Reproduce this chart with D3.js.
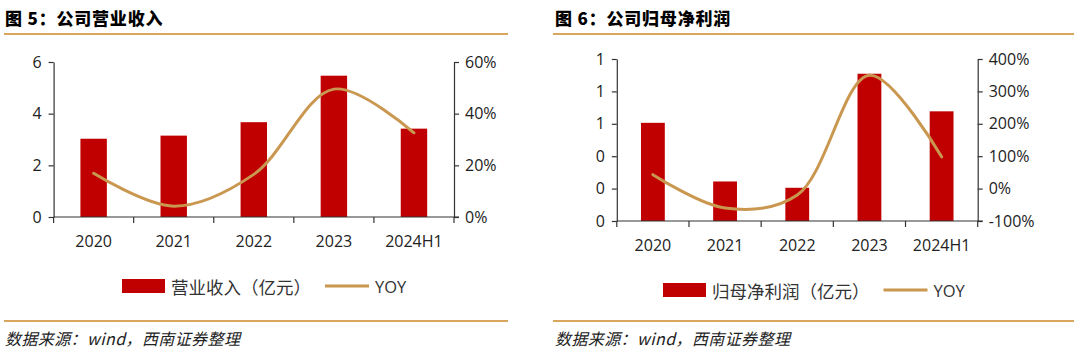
<!DOCTYPE html>
<html>
<head>
<meta charset="utf-8">
<script src="https://cdn.jsdelivr.net/npm/d3@7"></script>
<style>
  html, body { margin: 0; padding: 0; background: #fff; }
  svg { display: block; }
  .tick text { font-family: "Open Sans", "Liberation Sans", sans-serif; }
</style>
</head>
<body>
<svg id="chart" width="1080" height="353"></svg>
<script>
// ---------- data ----------
const categories = ["2020", "2021", "2022", "2023", "2024H1"];
const revenue = [3.03, 3.15, 3.67, 5.47, 3.42];          // 营业收入（亿元）
const revenueYoy = [16.9, 4.2, 16.5, 49.5, 32.6];        // %
const profit = [0.606, 0.244, 0.205, 0.909, 0.677];      // 归母净利润（亿元）
const profitYoy = [43, -60, -20, 350, 98];               // %

const revenueTicks = [0, 2, 4, 6];
const revenueYoyTicks = [0, 20, 40, 60];
const profitTicks = [0, 0.2, 0.4, 0.6, 0.8, 1.0];
const profitYoyTicks = [-100, 0, 100, 200, 300, 400];

const titles = ["图 5：公司营业收入", "图 6：公司归母净利润"];
const barNames = ["营业收入（亿元）", "归母净利润（亿元）"];
const lineName = "YOY";
const sourceText = "数据来源：wind，西南证券整理";

// ---------- styles ----------
const BAR = "#C00000";
const LINE = "#C9974F";
const RULE = "#D9A65E";
const AXIS = "#333333";
const TEXT = "#222222";
const CJK = "'Noto Sans CJK SC', 'Noto Sans', sans-serif";
const LAT = "'Open Sans', 'Liberation Sans', sans-serif";

const svg = d3.select("#chart");

function drawPanel(o) {
  const g = svg.append("g");

  // title
  g.append("text")
    .attr("x", o.titleX).attr("y", 17)
    .attr("dominant-baseline", "central")
    .attr("font-family", CJK).attr("font-weight", 900)
    .attr("font-size", 17).attr("letter-spacing", 0.8).attr("fill", "#000")
    .text(o.title);

  // rules
  [34, 321].forEach(y => {
    g.append("line")
      .attr("x1", o.ruleX0).attr("x2", o.ruleX1)
      .attr("y1", y).attr("y2", y)
      .attr("stroke", RULE).attr("stroke-width", 2);
  });

  // source
  g.append("text")
    .attr("x", o.titleX).attr("y", 338)
    .attr("dominant-baseline", "central")
    .attr("font-family", CJK).attr("font-style", "italic")
    .attr("font-size", 16).attr("letter-spacing", 0.4).attr("fill", "#222")
    .text(sourceText);

  // scales
  const x = d3.scaleBand().domain(categories).range([o.x0, o.x1]).paddingInner(0).paddingOuter(0);
  const yL = d3.scaleLinear().domain(o.yLDomain).range([o.yBottom, o.yTop]);
  const yR = d3.scaleLinear().domain(o.yRDomain).range([o.yBottom, o.yTop]);

  // bars
  const bw = x.bandwidth() * 0.33;
  g.append("g").selectAll("rect")
    .data(categories.map((c, i) => ({ c, v: o.bars[i] })))
    .join("rect")
    .attr("x", d => x(d.c) + x.bandwidth() / 2 - bw / 2)
    .attr("width", bw)
    .attr("y", d => yL(d.v))
    .attr("height", d => yL(o.yLDomain[0]) - yL(d.v))
    .attr("fill", BAR);

  // line
  const line = d3.line()
    .x((d, i) => x(categories[i]) + x.bandwidth() / 2)
    .y(d => yR(d))
    .curve(d3.curveCatmullRom.alpha(0.5));
  g.append("path")
    .datum(o.yoy)
    .attr("d", line)
    .attr("fill", "none")
    .attr("stroke", LINE)
    .attr("stroke-width", 3)
    .attr("stroke-linecap", "round");

  // axes
  const styleAxis = sel => {
    sel.select(".domain").attr("stroke", AXIS).attr("stroke-width", 1.2);
    sel.selectAll(".tick line").attr("stroke", AXIS).attr("stroke-width", 1.2);
    sel.selectAll(".tick text").attr("fill", TEXT).attr("font-size", 16).attr("font-family", LAT);
  };

  const axL = g.append("g")
    .attr("transform", `translate(${o.x0},0)`)
    .call(d3.axisLeft(yL).tickValues(o.yLTicks).tickFormat(o.yLFormat).tickSize(5).tickSizeOuter(0).tickPadding(7));
  styleAxis(axL);

  const axR = g.append("g")
    .attr("transform", `translate(${o.x1},0)`)
    .call(d3.axisRight(yR).tickValues(o.yRTicks).tickFormat(d => d + "%").tickSize(5).tickSizeOuter(0).tickPadding(6));
  styleAxis(axR);

  // x axis: line with ticks at band boundaries
  const bounds = categories.map(c => x(c)).concat([o.x1]);
  const axX = g.append("g");
  axX.append("line")
    .attr("x1", o.x0).attr("x2", o.x1 + 5)
    .attr("y1", o.yBottom).attr("y2", o.yBottom)
    .attr("stroke", AXIS).attr("stroke-width", 1.2);
  axX.selectAll("line.t").data(bounds).join("line")
    .attr("class", "t")
    .attr("x1", d => d).attr("x2", d => d)
    .attr("y1", o.yBottom).attr("y2", o.yBottom + 6)
    .attr("stroke", AXIS).attr("stroke-width", 1.2);
  axX.selectAll("text").data(categories).join("text")
    .attr("x", d => x(d) + x.bandwidth() / 2)
    .attr("y", o.yBottom + 24)
    .attr("text-anchor", "middle")
    .attr("dominant-baseline", "central")
    .attr("font-family", LAT).attr("font-size", 16).attr("fill", TEXT)
    .text(d => d);

  // legend
  const lg = g.append("g");
  lg.append("rect")
    .attr("x", o.legX).attr("y", o.legY - 7)
    .attr("width", 43).attr("height", 14)
    .attr("fill", BAR);
  const t1 = lg.append("text")
    .attr("x", o.legX + 49).attr("y", o.legY)
    .attr("dominant-baseline", "central")
    .attr("font-family", CJK).attr("font-size", 17.5).attr("fill", "#333")
    .text(o.barName);
  const tw = t1.node().getComputedTextLength();
  const lx = o.legX + 49 + tw + 14;
  lg.append("line")
    .attr("x1", lx).attr("x2", lx + 44)
    .attr("y1", o.legY).attr("y2", o.legY)
    .attr("stroke", LINE).attr("stroke-width", 3);
  lg.append("text")
    .attr("x", lx + 50).attr("y", o.legY)
    .attr("dominant-baseline", "central")
    .attr("font-family", LAT).attr("font-size", 16.5).attr("fill", "#333")
    .text(lineName);
}

drawPanel({
  title: titles[0], barName: barNames[0],
  titleX: 5, ruleX0: 4, ruleX1: 508,
  x0: 53.6, x1: 454, yBottom: 217, yTop: 62,
  yLDomain: [0, 6], yLTicks: revenueTicks, yLFormat: d3.format("d"),
  yRDomain: [0, 60], yRTicks: revenueYoyTicks,
  bars: revenue, yoy: revenueYoy,
  legX: 122, legY: 286
});

drawPanel({
  title: titles[1], barName: barNames[1],
  titleX: 555, ruleX0: 553, ruleX1: 1074,
  x0: 616.8, x1: 977.7, yBottom: 221, yTop: 59,
  yLDomain: [0, 1], yLTicks: profitTicks, yLFormat: d3.format(".0f"),
  yRDomain: [-100, 400], yRTicks: profitYoyTicks,
  bars: profit, yoy: profitYoy,
  legX: 663, legY: 290
});
</script>
</body>
</html>
